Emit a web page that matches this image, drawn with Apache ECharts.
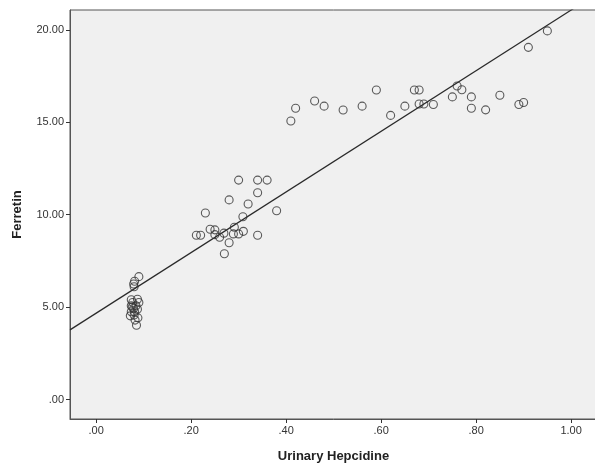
<!DOCTYPE html>
<html>
<head>
<meta charset="utf-8">
<script src="https://cdn.jsdelivr.net/npm/echarts@6/dist/echarts.min.js"></script>
<style>
html,body{margin:0;padding:0;background:#fff;overflow:hidden;}
#chart{width:605px;height:468px;}
</style>
</head>
<body>
<div id="chart"></div>
<script>
// Urinary Hepcidine (x) values
var hepcidine = [
  0.090, 0.081, 0.079, 0.080, 0.074, 0.087, 0.090, 0.077, 0.074, 0.084, 0.079, 0.087, 0.074, 0.081, 0.072, 0.080, 0.088, 0.085, 0.076, 0.082,
  0.300, 0.340, 0.360, 0.340, 0.280, 0.320, 0.230, 0.380, 0.309, 0.240, 0.250, 0.291, 0.211, 0.220, 0.250, 0.260, 0.269, 0.289, 0.300, 0.310, 0.340, 0.280, 0.270,
  0.410, 0.420, 0.460, 0.480, 0.520, 0.560, 0.590, 0.620, 0.650, 0.670, 0.680, 0.680, 0.690, 0.710, 0.750, 0.760, 0.770, 0.790, 0.790, 0.820, 0.850, 0.890, 0.900, 0.910, 0.950
];
// Ferretin (y) values
var ferretin = [
  6.65, 6.40, 6.25, 6.10, 5.40, 5.43, 5.25, 5.25, 5.07, 5.07, 4.93, 4.89, 4.75, 4.75, 4.53, 4.57, 4.42, 4.02, 5.00, 4.30,
  11.87, 11.87, 11.87, 11.19, 10.80, 10.58, 10.09, 10.21, 9.89, 9.21, 9.18, 9.32, 8.89, 8.89, 8.92, 8.78, 9.00, 8.96, 8.96, 9.10, 8.89, 8.48, 7.89,
  15.07, 15.76, 16.15, 15.87, 15.66, 15.87, 16.74, 15.37, 15.87, 16.74, 16.74, 15.99, 15.99, 15.96, 16.37, 16.96, 16.76, 16.37, 15.76, 15.67, 16.46, 15.96, 16.07, 19.05, 19.94
];
// Fit line endpoints
var fitX = [-0.055, 1.0545];
var fitY = [3.77, 21.96];
// Tick values
var xTicks = [0, 0.2, 0.4, 0.6, 0.8, 1.0];
var yTicks = [0, 5, 10, 15, 20];

function fmt(v) {
  var s = v.toFixed(2);
  if (s.indexOf('0.') === 0) s = s.substring(1);
  return s;
}

var points = hepcidine.map(function (x, i) { return [x, ferretin[i]]; });
var fitLine = fitX.map(function (x, i) { return [x, fitY[i]]; });

var font = '"Liberation Sans", Arial, sans-serif';
var chart = echarts.init(document.getElementById('chart'), null, {renderer: 'canvas'});
chart.setOption({
  animation: false,
  backgroundColor: '#ffffff',
  grid: {
    left: 70, right: 8, top: 10, bottom: 45, containLabel: false,
    show: true, backgroundColor: '#f0f0f0', borderColor: '#555555', borderWidth: 1
  },
  xAxis: {
    type: 'value', min: -0.055, max: 1.0545,
    name: 'Urinary Hepcidine', nameLocation: 'middle', nameGap: 31,
    nameTextStyle: {fontFamily: font, fontWeight: 'bold', fontSize: 13, color: '#222'},
    axisLine: {show: true, onZero: false, lineStyle: {color: '#555555'}},
    axisTick: {show: true, customValues: xTicks, length: 4, lineStyle: {color: '#333'}},
    axisLabel: {customValues: xTicks, formatter: fmt, fontFamily: font, fontSize: 11, color: '#333', margin: 6},
    splitLine: {show: false}
  },
  yAxis: {
    type: 'value', min: -1.05, max: 21.07,
    name: 'Ferretin', nameLocation: 'middle', nameGap: 46, nameRotate: 90,
    nameTextStyle: {fontFamily: font, fontWeight: 'bold', fontSize: 13, color: '#222'},
    axisLine: {show: true, onZero: false, lineStyle: {color: '#555555'}},
    axisTick: {show: true, customValues: yTicks, length: 4, lineStyle: {color: '#333'}},
    axisLabel: {customValues: yTicks, formatter: fmt, fontFamily: font, fontSize: 11, color: '#333', margin: 6},
    splitLine: {show: false}
  },
  series: [
    {
      type: 'line', data: fitLine, showSymbol: false, symbol: 'none', clip: true,
      lineStyle: {color: '#2a2a2a', width: 1.2}, silent: true, z: 1
    },
    {
      type: 'scatter', data: points, symbol: 'circle', symbolSize: 8,
      itemStyle: {color: 'rgba(0,0,0,0)', borderColor: '#333333', borderWidth: 1.1}, z: 2
    }
  ]
});
</script>
</body>
</html>
